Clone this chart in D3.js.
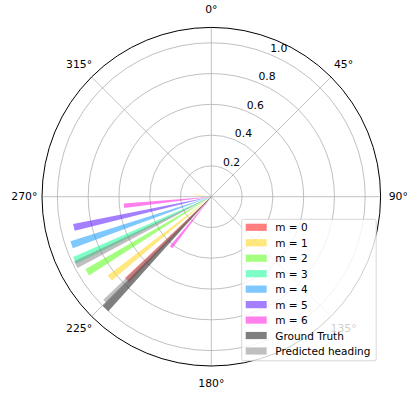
<!DOCTYPE html>
<html>
<head>
<meta charset="utf-8">
<script src="https://cdn.jsdelivr.net/npm/d3@7"></script>
<style>
  html, body { margin: 0; padding: 0; background: #ffffff; }
  svg { display: block; font-family: "DejaVu Sans", sans-serif; }
</style>
</head>
<body>
<svg id="chart" width="410" height="394"></svg>
<script>
// Heading distribution per mode: angle in degrees (clockwise from north) and bar length
const modeLabels = ["m = 0", "m = 1", "m = 2", "m = 3", "m = 4", "m = 5", "m = 6"];
const modeColors = ["#ff0000", "#ffd200", "#49ff00", "#00ff92", "#0092ff", "#4900ff", "#ff00db"];
const modeHeadings = [[225.3], [231.3, 277.0], [238.6], [245.0], [251.0], [257.4, 219.0], [264.1, 218.5]];
const modeValues   = [[0.77], [0.845, 0.11], [0.945], [0.98], [0.96], [0.915, 0.07], [0.57, 0.42]];

const groundTruthHeadings = [223.4];
const groundTruthValues = [1.0];
const predictedHeadings = [243.4, 224.9];
const predictedValues = [0.985, 0.97];

const radialTicks = [0.2, 0.4, 0.6, 0.8, 1.0];
const angleTicks = [0, 45, 90, 135, 180, 225, 270, 315];

const svg = d3.select("#chart");
const cx = 211.3, cy = 196.7, outerR = 169.3;
const barWidth = 0.05; // radians

const r = d3.scaleLinear().domain([0, 1.1]).range([0, outerR]);
const toRad = d => d * Math.PI / 180;

const g = svg.append("g").attr("transform", `translate(${cx},${cy})`);

// grid circles
g.selectAll("circle.grid").data(radialTicks).join("circle")
  .attr("class", "grid").attr("r", d => r(d))
  .attr("fill", "none").attr("stroke", "#b0b0b0").attr("stroke-width", 0.8);

// angular grid lines
g.selectAll("line.spoke").data(angleTicks).join("line")
  .attr("class", "spoke")
  .attr("x1", 0).attr("y1", 0)
  .attr("x2", d => outerR * Math.sin(toRad(d)))
  .attr("y2", d => -outerR * Math.cos(toRad(d)))
  .attr("stroke", "#b0b0b0").attr("stroke-width", 0.8);

const arc = d3.arc().innerRadius(0);

function drawBars(headings, values, color, alpha) {
  const data = headings.map((h, i) => ({ h, v: values[i] }));
  g.append("g").selectAll("path").data(data).join("path")
    .attr("d", d => arc({
      outerRadius: r(d.v),
      startAngle: toRad(d.h) - barWidth / 2,
      endAngle: toRad(d.h) + barWidth / 2
    }))
    .attr("fill", color).attr("fill-opacity", alpha);
}

modeLabels.forEach((m, i) => drawBars(modeHeadings[i], modeValues[i], modeColors[i], 0.5));
drawBars(groundTruthHeadings, groundTruthValues, "#000000", 0.5);
drawBars(predictedHeadings, predictedValues, "#808080", 0.5);

// outer spine
g.append("circle").attr("r", outerR).attr("fill", "none")
  .attr("stroke", "#000").attr("stroke-width", 1);

// radial tick labels along 22.5°
const labelAngle = toRad(22.5);
g.selectAll("text.rtick").data(radialTicks).join("text")
  .attr("class", "rtick")
  .attr("x", d => r(d) * Math.sin(labelAngle))
  .attr("y", d => -r(d) * Math.cos(labelAngle) - 2.5)
  .attr("text-anchor", "start")
  .attr("font-size", 10.8).attr("fill", "#000")
  .text(d => d.toFixed(1));

// angle tick labels
const labelR = 187;
g.selectAll("text.ttick").data(angleTicks).join("text")
  .attr("class", "ttick")
  .attr("x", d => labelR * Math.sin(toRad(d)))
  .attr("y", d => -labelR * Math.cos(toRad(d)))
  .attr("text-anchor", "middle").attr("dominant-baseline", "central")
  .attr("font-size", 10.8).attr("fill", "#000")
  .text(d => d + "°");

// legend (semi-transparent frame drawn over the axes)
const legendItems = modeLabels.map((m, i) => ({ label: m, color: modeColors[i], alpha: 0.5 }))
  .concat([{ label: "Ground Truth", color: "#000000", alpha: 0.5 },
           { label: "Predicted heading", color: "#808080", alpha: 0.5 }]);

const lg = svg.append("g");
lg.append("rect")
  .attr("x", 241.7).attr("y", 219.3).attr("width", 134.5).attr("height", 141.5)
  .attr("rx", 2).attr("fill", "#fff").attr("fill-opacity", 0.8)
  .attr("stroke", "#cccccc").attr("stroke-width", 0.8);

const rowY = i => 227.3 + i * 15.46;
lg.selectAll("rect.sw").data(legendItems).join("rect")
  .attr("class", "sw")
  .attr("x", 245.7).attr("y", (d, i) => rowY(i) - 3.6)
  .attr("width", 21).attr("height", 7.2)
  .attr("fill", d => d.color).attr("fill-opacity", d => d.alpha);
lg.selectAll("text.lt").data(legendItems).join("text")
  .attr("class", "lt")
  .attr("x", 275.3).attr("y", (d, i) => rowY(i))
  .attr("dominant-baseline", "central")
  .attr("font-size", 10.5).attr("fill", "#000")
  .text(d => d.label);
</script>
</body>
</html>
